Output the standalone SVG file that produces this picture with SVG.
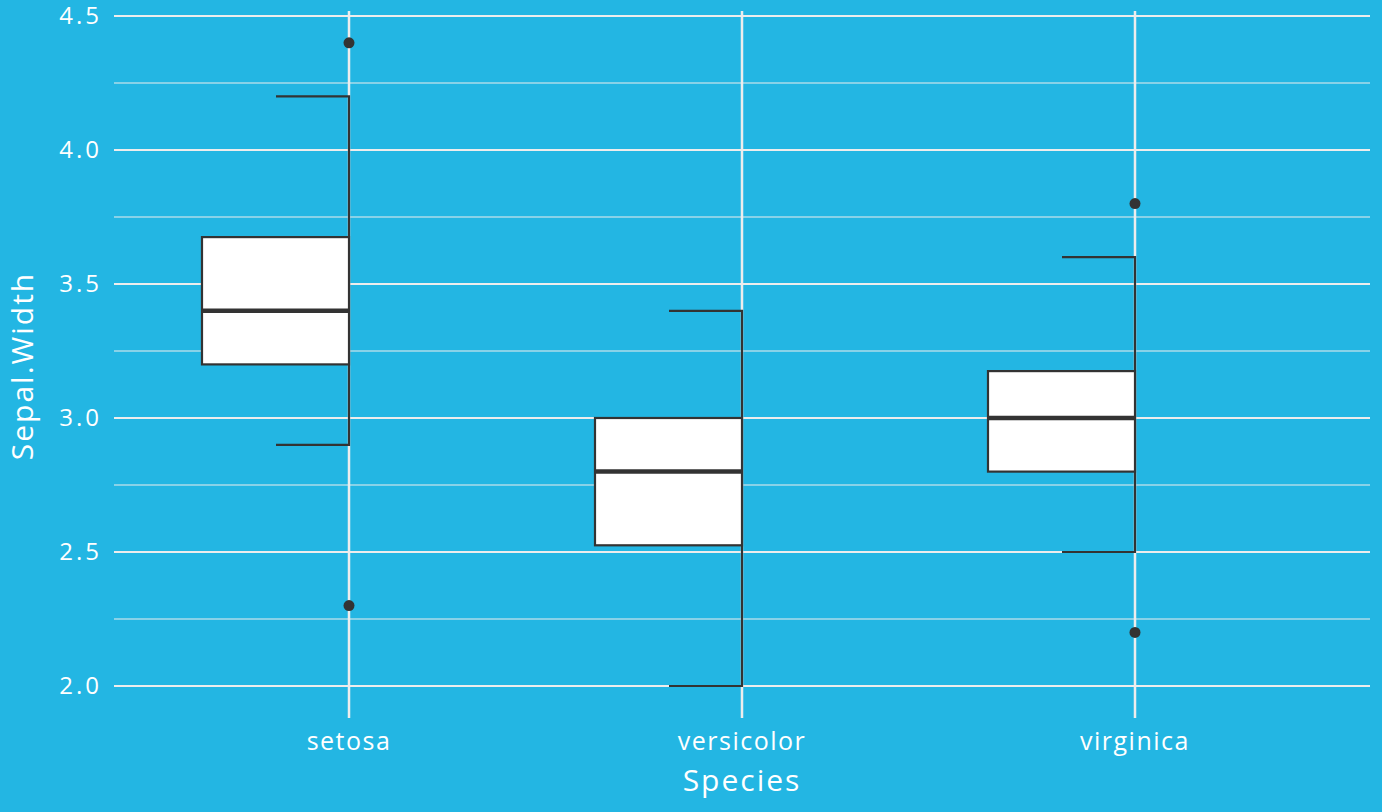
<svg xmlns="http://www.w3.org/2000/svg" width="1382" height="812" viewBox="0 0 1382 812">
<style>
.gmaj{stroke:#EDEDED;stroke-width:2;fill:none}
.gmin{stroke:#EDEDED;stroke-width:1.2;fill:none}
.vg{stroke:#EDEDED;stroke-width:2.5;fill:none}
.box{fill:#FFFFFF;stroke:#333333;stroke-width:2.2}
.med{stroke:#333333;stroke-width:4.5}
.wh{stroke:#333333;stroke-width:2.2;fill:none}
.out{fill:#333333}
text{font-family:"Open Sans","Liberation Sans",sans-serif;fill:#FFFFFF}
.yt{font-size:24px;text-anchor:end;letter-spacing:3px}
.xt{font-size:25px;text-anchor:middle;letter-spacing:1.5px}
.ttl{font-size:30px;text-anchor:middle;letter-spacing:2px}
</style>
<rect x="0" y="0" width="1382" height="812" fill="#23B6E3"/>
<g id="grid">
<path class="gmin" d="M114 83H1370M114 217H1370M114 351H1370M114 485H1370M114 619H1370"/>
<path class="gmaj" d="M114 16H1370M114 150H1370M114 284H1370M114 418H1370M114 552H1370M114 686H1370"/>
<path class="vg" d="M349 11V718M742 11V718M1135 11V718"/>
</g>
<g id="axes">
<text class="yt" x="102" y="24">4.5</text>
<text class="yt" x="102" y="158">4.0</text>
<text class="yt" x="102" y="292">3.5</text>
<text class="yt" x="102" y="426">3.0</text>
<text class="yt" x="102" y="560">2.5</text>
<text class="yt" x="102" y="694">2.0</text>
<text class="xt" x="349" y="750">setosa</text>
<text class="xt" x="742" y="750">versicolor</text>
<text class="xt" x="1135" y="750">virginica</text>
<text class="ttl" x="742" y="791">Species</text>
<text class="ttl" transform="translate(33,366) rotate(-90)">Sepal.Width</text>
</g>
<g id="setosa">
<path class="wh" d="M276 96.4H349V444.8H276"/>
<rect class="box" x="202" y="237.1" width="147" height="127.3"/>
<line class="med" x1="202" y1="310.8" x2="349" y2="310.8"/>
<circle class="out" cx="349" cy="42.8" r="5.5"/>
<circle class="out" cx="349" cy="605.6" r="5.5"/>
</g>
<g id="versicolor">
<path class="wh" d="M669 310.8H742V686H669"/>
<rect class="box" x="595" y="418" width="147" height="127.3"/>
<line class="med" x1="595" y1="471.6" x2="742" y2="471.6"/>
</g>
<g id="virginica">
<path class="wh" d="M1062 257.2H1135V552H1062"/>
<rect class="box" x="988" y="371.1" width="147" height="100.5"/>
<line class="med" x1="988" y1="418" x2="1135" y2="418"/>
<circle class="out" cx="1135" cy="203.6" r="5.5"/>
<circle class="out" cx="1135" cy="632.4" r="5.5"/>
</g>
</svg>
